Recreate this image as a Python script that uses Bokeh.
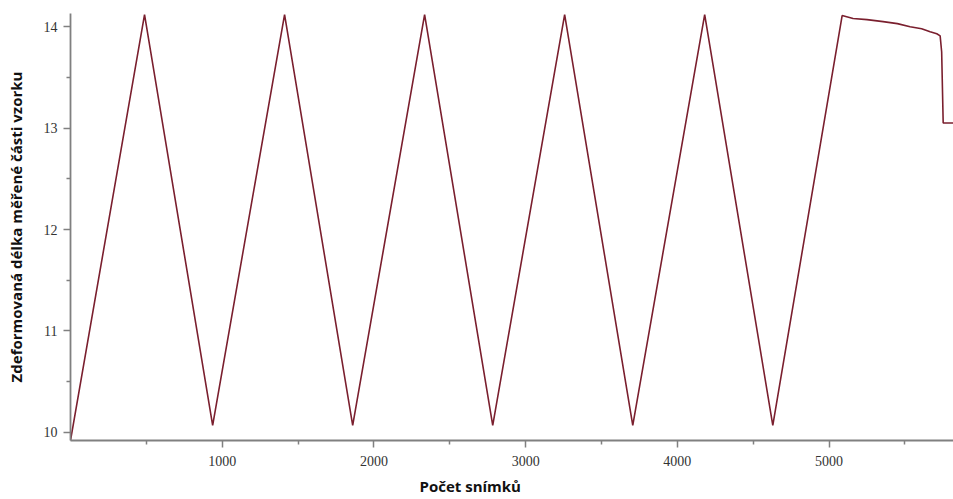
from bokeh.plotting import figure
from bokeh.embed import file_html
from bokeh.resources import INLINE
from bokeh.models import FixedTicker, Range1d, Title

# Data
frames = [0, 488, 937, 1411, 1860, 2334, 2783, 3257, 3706, 4180, 4629,
          5086, 5110, 5158, 5250, 5356, 5450, 5534, 5610, 5666, 5710, 5732,
          5742, 5752, 5818]
lengths = [9.92, 14.12, 10.07, 14.12, 10.07, 14.12, 10.07, 14.12, 10.07, 14.12, 10.07,
           14.11, 14.10, 14.08, 14.07, 14.05, 14.03, 14.00, 13.98, 13.95, 13.93, 13.91,
           13.75, 13.05, 13.05]

x_major = [1000, 2000, 3000, 4000, 5000]
x_minor = [500, 1500, 2500, 3500, 4500, 5500]
y_major = [10, 11, 12, 13, 14]
y_minor = [10.5, 11.5, 12.5, 13.5]

p = figure(frame_width=883, frame_height=427, output_backend="svg",
           toolbar_location=None, x_range=Range1d(0, 5820), y_range=Range1d(9.92, 14.13),
           min_border_left=70, min_border_top=13, min_border_right=0, min_border_bottom=8)

p.line(frames, lengths, line_color="#7a1f2e", line_width=1.6)

p.grid.visible = False
p.outline_line_color = None
p.background_fill_color = "white"
p.border_fill_color = "white"

p.xaxis.ticker = FixedTicker(ticks=x_major, minor_ticks=x_minor)
p.yaxis.ticker = FixedTicker(ticks=y_major, minor_ticks=y_minor)

for ax in (p.xaxis[0], p.yaxis[0]):
    ax.axis_line_color = "#808080"
    ax.axis_line_width = 1.8
    ax.major_tick_line_color = "#808080"
    ax.minor_tick_line_color = "#808080"
    ax.major_tick_line_width = 1.5
    ax.minor_tick_line_width = 1.5
    ax.major_tick_in = 0
    ax.minor_tick_in = 0
    ax.major_tick_out = 7
    ax.minor_tick_out = 4
    ax.major_label_text_font = "Liberation Serif"
    ax.major_label_text_font_size = "14px"
    ax.major_label_text_color = "#333333"

p.yaxis.major_label_standoff = 6
p.xaxis.major_label_standoff = 8

p.yaxis.axis_label = "Zdeformovaná délka měřené části vzorku"
p.yaxis.axis_label_text_font = "Open Sans"
p.yaxis.axis_label_text_font_style = "bold"
p.yaxis.axis_label_text_font_size = "15px"
p.yaxis.axis_label_text_color = "#111111"
p.yaxis.axis_label_standoff = 15

p.add_layout(Title(text="Počet snímků", align="left", offset=349,
                   text_font="Open Sans", text_font_style="bold",
                   text_font_size="15px", text_color="#111111"), "below")

open("out.html", "w").write(file_html(p, INLINE))
